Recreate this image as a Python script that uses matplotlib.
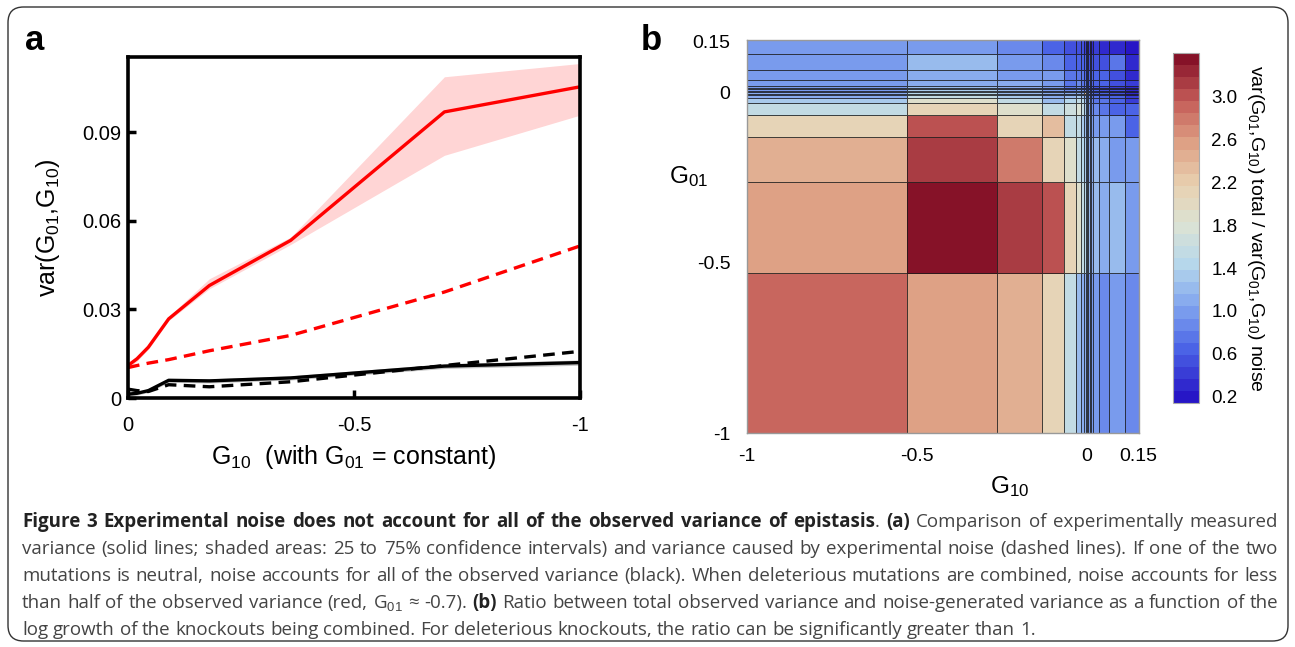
import numpy as np
import matplotlib

matplotlib.use("Agg")
import matplotlib.pyplot as plt
from matplotlib.colors import LinearSegmentedColormap, Normalize
from matplotlib.patches import FancyBboxPatch

plt.rcParams["font.family"] = ["Liberation Sans", "DejaVu Sans"]
plt.rcParams["mathtext.fontset"] = "custom"
plt.rcParams["mathtext.rm"] = "Liberation Sans"
plt.rcParams["mathtext.it"] = "Liberation Sans:italic"
plt.rcParams["mathtext.bf"] = "Liberation Sans:bold"

# ---- panel a: variance vs G10 ----
g10 = [0.0, -0.02, -0.045, -0.09, -0.18, -0.36, -0.70, -1.0]
red_total = [0.0110, 0.0133, 0.0172, 0.0268, 0.0381, 0.0534, 0.0969, 0.1054]
red_total_lo = [0.0100, 0.0125, 0.0165, 0.0262, 0.0370, 0.0520, 0.0822, 0.0958]
red_total_hi = [0.0118, 0.0142, 0.0180, 0.0276, 0.0404, 0.0545, 0.1088, 0.1133]
red_noise = [0.0103, 0.0110, 0.0118, 0.0130, 0.0160, 0.0212, 0.0359, 0.0515]
black_total = [0.0013, 0.0016, 0.0025, 0.0060, 0.0058, 0.0068, 0.0108, 0.0120]
black_total_lo = [0.0007, 0.0010, 0.0019, 0.0053, 0.0051, 0.0061, 0.0100, 0.0111]
black_total_hi = [0.0019, 0.0022, 0.0031, 0.0066, 0.0065, 0.0075, 0.0116, 0.0129]
black_noise = [0.0030, 0.0025, 0.0022, 0.0045, 0.0038, 0.0055, 0.0110, 0.0158]
a_yticks = [0, 0.03, 0.06, 0.09]
a_yticklabels = ["0", "0.03", "0.06", "0.09"]
a_xticks = [0, -0.5, -1]
a_xticklabels = ["0", "-0.5", "-1"]

# ---- panel b: variance ratio map (same bin edges on both axes) ----
bin_edges = [-1.0, -0.53, -0.265, -0.133, -0.067, -0.033, -0.017, -0.009, -0.004,
             0.0, 0.004, 0.008, 0.012, 0.018, 0.036, 0.066, 0.113, 0.153]
# rows: G01 bins from bottom (-1) to top (0.153); columns: G10 bins left to right
ratio = [
    [2.85, 2.60, 2.45, 2.10, 1.50, 1.25, 1.15, 1.10, 1.05, 1.05, 1.00, 1.00, 0.95, 1.00, 0.90, 1.00, 0.90],
    [2.60, 3.40, 3.15, 3.00, 2.10, 1.85, 1.60, 1.40, 1.30, 1.20, 1.20, 1.15, 1.10, 1.20, 1.05, 1.25, 1.00],
    [2.50, 3.15, 2.75, 2.10, 1.85, 1.50, 1.40, 1.30, 1.20, 1.15, 1.10, 1.10, 1.05, 1.25, 1.05, 1.00, 0.95],
    [2.10, 3.00, 2.15, 2.30, 1.50, 1.50, 1.35, 1.25, 1.15, 1.10, 1.05, 1.00, 1.00, 1.00, 1.00, 1.00, 0.70],
    [1.50, 2.10, 1.85, 1.50, 1.70, 1.80, 1.50, 1.30, 1.20, 1.10, 1.00, 0.95, 0.90, 0.85, 0.75, 0.60, 0.60],
    [1.30, 1.85, 1.50, 1.25, 1.45, 1.60, 1.40, 1.25, 1.10, 1.00, 0.95, 0.90, 0.85, 0.80, 0.75, 0.65, 0.45],
    [1.15, 1.55, 1.35, 1.15, 1.20, 1.30, 1.20, 1.10, 1.00, 0.95, 0.90, 0.85, 0.80, 0.75, 0.70, 0.60, 0.40],
    [1.10, 1.45, 1.30, 1.10, 1.10, 1.20, 1.10, 1.05, 1.00, 0.90, 0.85, 0.80, 0.75, 0.70, 0.65, 0.55, 0.35],
    [1.05, 1.40, 1.25, 1.05, 1.05, 1.10, 1.05, 2.30, 1.00, 0.90, 0.85, 0.80, 0.75, 0.70, 0.60, 0.50, 0.35],
    [1.00, 1.35, 1.20, 1.00, 0.95, 1.00, 0.95, 0.90, 0.90, 0.85, 0.80, 0.75, 0.70, 0.65, 0.60, 0.50, 0.35],
    [1.00, 1.30, 1.20, 1.00, 0.90, 0.95, 0.90, 0.85, 0.85, 0.80, 0.75, 0.70, 0.65, 0.60, 0.55, 0.50, 0.35],
    [0.95, 1.25, 1.15, 0.95, 0.85, 0.90, 0.85, 0.80, 0.80, 0.75, 0.70, 0.65, 0.60, 0.60, 0.55, 0.45, 0.30],
    [0.95, 1.20, 1.10, 0.95, 0.80, 0.85, 0.80, 0.80, 0.75, 0.70, 0.70, 0.65, 0.60, 0.55, 0.50, 0.45, 0.30],
    [0.95, 1.10, 1.05, 0.95, 0.80, 0.85, 0.80, 0.75, 0.75, 0.70, 0.70, 0.65, 0.60, 0.60, 0.60, 0.55, 0.40],
    [0.95, 1.10, 1.00, 0.95, 0.75, 0.80, 0.75, 0.70, 0.70, 0.65, 0.65, 0.60, 0.60, 0.60, 0.65, 0.55, 0.35],
    [1.00, 1.25, 1.00, 0.90, 0.70, 0.70, 0.65, 0.60, 0.60, 0.55, 0.55, 0.50, 0.50, 0.55, 0.55, 0.75, 0.30],
    [0.95, 1.00, 0.90, 0.70, 0.55, 0.55, 0.50, 0.45, 0.40, 0.40, 0.40, 0.35, 0.35, 0.40, 0.35, 0.30, 0.15],
]
b_ticks = [-1, -0.5, 0, 0.15]
b_ticklabels = ["-1", "-0.5", "0", "0.15"]
cb_ticks = [0.2, 0.6, 1.0, 1.4, 1.8, 2.2, 2.6, 3.0]
cb_range = [0.14, 3.41]

# colormap anchors (value, colour)
cmap_values = [0.14, 0.6, 1.0, 1.4, 1.8, 2.2, 2.6, 3.0, 3.41]
cmap_colors = ["#2716c6", "#4a62e6", "#7fa2ee", "#b4d6ec", "#dbe3d4",
               "#e8d0b0", "#dea084", "#c45c58", "#861228"]

caption_lines = [
    "**Figure 3 Experimental noise does not account for all of the observed variance of epistasis**. **(a)** Comparison of experimentally measured",
    "variance (solid lines; shaded areas: 25 to 75% confidence intervals) and variance caused by experimental noise (dashed lines). If one of the two",
    "mutations is neutral, noise accounts for all of the observed variance (black). When deleterious mutations are combined, noise accounts for less",
    "than half of the observed variance (red, G$_{01}$ ≈ -0.7). **(b)** Ratio between total observed variance and noise-generated variance as a function of the",
    "log growth of the knockouts being combined. For deleterious knockouts, the ratio can be significantly greater than 1.",
]

W, H = 1295, 647
CAP_FAMILY = ["Open Sans", "DejaVu Sans"]
CAP_SIZE = 13.5


def px_rect(x0, y0, x1, y1):
    """pixel box (top-left origin) -> figure fraction rect"""
    return [x0 / W, 1 - y1 / H, (x1 - x0) / W, (y1 - y0) / H]


def parse_words(line):
    """split a line into words; each word is a list of (text, bold) pieces"""
    words = []
    bold = False
    for token in line.split(" "):
        parts = token.split("**")
        word = []
        for i, p in enumerate(parts):
            if i > 0:
                bold = not bold
            if p:
                word.append((p, bold))
        words.append(word)
    return words


def draw_caption(fig, lines, x0, x1, baselines):
    fig.canvas.draw()
    renderer = fig.canvas.get_renderer()
    cache = {}

    def seg_width(text, bold):
        key = (text, bold)
        if key not in cache:
            t = fig.text(0, 0, text, fontsize=CAP_SIZE, family=CAP_FAMILY,
                         weight="bold" if bold else "normal")
            cache[key] = t.get_window_extent(renderer).width
            t.remove()
        return cache[key]

    space = seg_width("a a", False) - seg_width("aa", False)
    for k, line in enumerate(lines):
        words = parse_words(line)
        widths = [sum(seg_width(s, b) for s, b in w) for w in words]
        if k == len(lines) - 1:
            gap = space
        else:
            gap = (x1 - x0 - sum(widths)) / (len(words) - 1)
        x = x0
        for word, ww in zip(words, widths):
            xx = x
            for s, b in word:
                fig.text(xx / W, 1 - baselines[k] / H, s, fontsize=CAP_SIZE,
                         family=CAP_FAMILY, weight="bold" if b else "normal",
                         color="#444444" if not b else "#222222", va="baseline")
                xx += seg_width(s, b)
            x += ww + gap


def plot_panel_a(ax):
    ax.fill_between(g10, red_total_lo, red_total_hi, color="#ff4040", alpha=0.22, linewidth=0)
    ax.fill_between(g10, black_total_lo, black_total_hi, color="#808080", alpha=0.45, linewidth=0)
    ax.plot(g10, red_total, color="#ff0000", linewidth=2.4)
    ax.plot(g10, red_noise, color="#ff0000", linewidth=2.4, dashes=(3.5, 2.2))
    ax.plot(g10, black_total, color="black", linewidth=2.4)
    ax.plot(g10, black_noise, color="black", linewidth=2.4, dashes=(3.5, 2.2))

    ax.set_xlim(0, -1)
    ax.set_ylim(0, 0.1155)
    ax.set_xticks(a_xticks)
    ax.set_xticklabels(a_xticklabels)
    ax.set_yticks(a_yticks)
    ax.set_yticklabels(a_yticklabels)
    ax.tick_params(direction="in", length=6, width=2.5, labelsize=14.5)
    ax.tick_params(axis="x", pad=13)
    ax.tick_params(axis="y", pad=5)
    for sp in ax.spines.values():
        sp.set_linewidth(2.6)
    ax.set_xlabel("G$_{10}$  (with G$_{01}$ = constant)", fontsize=18, labelpad=6)
    ax.set_ylabel("var(G$_{01}$,G$_{10}$)", fontsize=18, labelpad=14)


def plot_panel_b(fig, ax, cax):
    pos = [(v - cmap_values[0]) / (cmap_values[-1] - cmap_values[0]) for v in cmap_values]
    cmap = LinearSegmentedColormap.from_list("ratio", list(zip(pos, cmap_colors)), N=29)
    norm = Normalize(vmin=cb_range[0], vmax=cb_range[1])

    mesh = ax.pcolormesh(bin_edges, bin_edges, np.array(ratio), cmap=cmap, norm=norm,
                         edgecolors=(0.1, 0.1, 0.1, 0.8), linewidth=0.65)
    ax.set_xlim(bin_edges[0], bin_edges[-1])
    ax.set_ylim(bin_edges[0], bin_edges[-1])
    ax.set_xticks(b_ticks)
    ax.set_xticklabels(b_ticklabels)
    ax.set_yticks(b_ticks)
    ax.set_yticklabels(b_ticklabels)
    ax.tick_params(length=0, labelsize=14)
    ax.tick_params(axis="x", pad=11)
    ax.tick_params(axis="y", pad=12)
    for sp in ax.spines.values():
        sp.set_color("#999999")
        sp.set_linewidth(1.0)
    ax.set_xlabel("G$_{10}$", fontsize=17.5)
    ax.set_ylabel("G$_{01}$", fontsize=17.5, rotation=0)
    ax.xaxis.set_label_coords(0.671, -0.105)
    ax.yaxis.set_label_coords(-0.15, 0.62)

    cb = fig.colorbar(mesh, cax=cax)
    cb.set_ticks(cb_ticks)
    cb.set_ticklabels([f"{t:.1f}" for t in cb_ticks])
    cb.ax.tick_params(length=0, labelsize=13.5, pad=9)
    cb.outline.set_edgecolor("#aaaaaa")
    cb.set_label("var(G$_{01}$,G$_{10}$) total / var(G$_{01}$,G$_{10}$) noise",
                 rotation=270, fontsize=14, labelpad=20)


def main():
    fig = plt.figure(figsize=(W / 100, H / 100), dpi=100)

    # rounded frame around the whole figure
    frame = FancyBboxPatch((8 / W, 6 / H), 1280 / W, 634 / H,
                           boxstyle="round,pad=0,rounding_size=0.012",
                           mutation_aspect=W / H, transform=fig.transFigure,
                           facecolor="none", edgecolor="#333333", linewidth=1.0)
    fig.patches.append(frame)

    ax_a = fig.add_axes(px_rect(128, 57, 580, 398))
    ax_b = fig.add_axes(px_rect(747, 40, 1139, 433))
    cax = fig.add_axes(px_rect(1173, 53, 1199, 403))

    plot_panel_a(ax_a)
    plot_panel_b(fig, ax_b, cax)

    fig.text(35 / W, 1 - 40 / H, "a", fontsize=25, weight="bold", ha="center", va="center")
    fig.text(651 / W, 1 - 40 / H, "b", fontsize=25, weight="bold", ha="center", va="center")

    draw_caption(fig, caption_lines, 22, 1278, [527, 554, 581, 608, 635])

    fig.savefig("out.png", dpi=100)


if __name__ == "__main__":
    main()
